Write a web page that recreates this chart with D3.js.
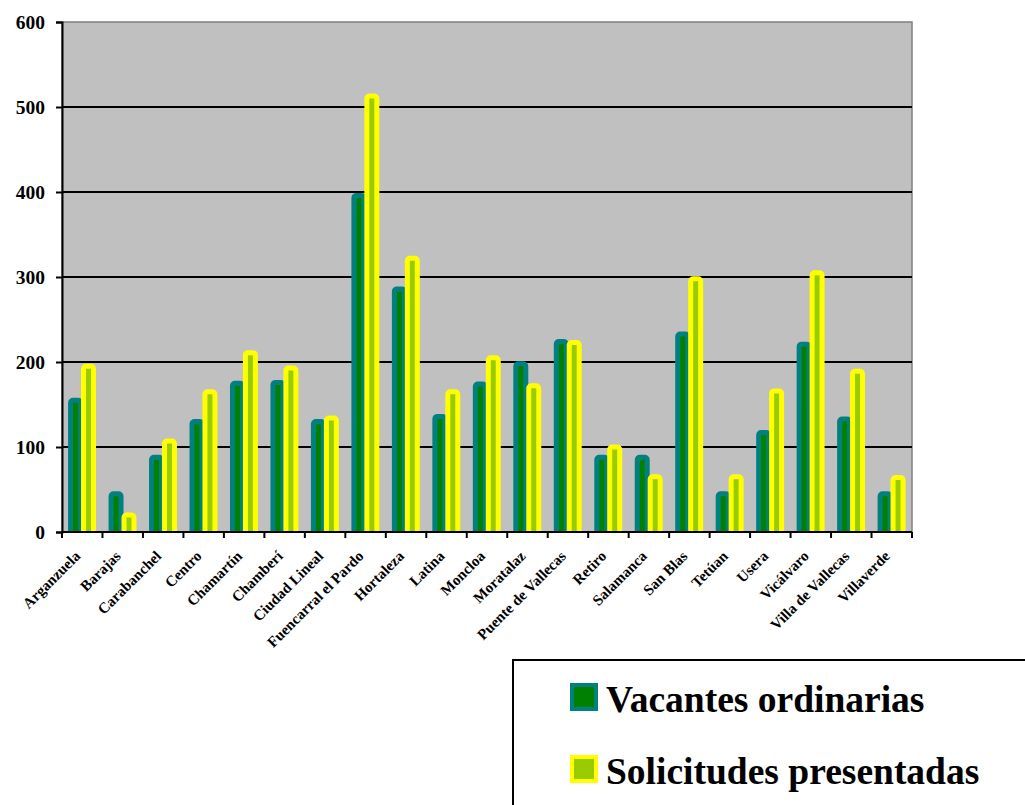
<!DOCTYPE html>
<html>
<head>
<meta charset="utf-8">
<script src="https://cdn.jsdelivr.net/npm/d3@7"></script>
<style>
  html, body { margin: 0; padding: 0; background: #ffffff; }
  svg { display: block; }
  text { font-family: "Liberation Serif", "Times New Roman", serif; font-weight: bold; fill: #000; }
</style>
</head>
<body>
<svg id="chart" width="1025" height="805"></svg>
<script>
// Distritos de Madrid
const districts = [
  "Arganzuela", "Barajas", "Carabanchel", "Centro", "Chamartín", "Chamberí",
  "Ciudad Lineal", "Fuencarral el Pardo", "Hortaleza", "Latina", "Moncloa",
  "Moratalaz", "Puente de Vallecas", "Retiro", "Salamanca", "San Blas",
  "Tetúan", "Usera", "Vicálvaro", "Villa de Vallecas", "Villaverde"
];
const vacantes = [155, 45, 88, 130, 175, 176, 130, 396, 286, 136, 174, 198, 224, 88, 88, 233, 45, 117, 221, 133, 45];
const solicitudes = [195, 20, 107, 165, 211, 193, 134, 513, 322, 165, 205, 172, 223, 100, 65, 298, 65, 166, 305, 189, 64];
const seriesNames = ["Vacantes ordinarias", "Solicitudes presentadas"];
const yTicks = [0, 100, 200, 300, 400, 500, 600];

const svg = d3.select("#chart");
const plot = { left: 62, right: 912, top: 22, bottom: 532 };

const x = d3.scaleBand().domain(districts).range([plot.left, plot.right]).padding(0);
const y = d3.scaleLinear().domain([0, 600]).range([plot.bottom, plot.top]);

const series = [
  { name: seriesNames[0], values: vacantes, stroke: "#008080", fill: "#008000" },
  { name: seriesNames[1], values: solicitudes, stroke: "#FFFF00", fill: "#99CC00" }
];

// Plot background
svg.append("rect")
  .attr("x", plot.left).attr("y", plot.top)
  .attr("width", plot.right - plot.left).attr("height", plot.bottom - plot.top)
  .attr("fill", "#C0C0C0").attr("stroke", "#808080").attr("stroke-width", 1.5);

// Horizontal gridlines
svg.append("g").selectAll("line")
  .data(yTicks.filter(t => t > 0 && t < 600))
  .join("line")
  .attr("x1", plot.left).attr("x2", plot.right)
  .attr("y1", d => y(d)).attr("y2", d => y(d))
  .attr("stroke", "#000").attr("stroke-width", 2);

// Bars
svg.append("defs").append("clipPath").attr("id", "plotClip")
  .append("rect")
  .attr("x", plot.left).attr("y", plot.top - 10)
  .attr("width", plot.right - plot.left).attr("height", plot.bottom - plot.top + 10);

const bw = x.bandwidth();
const barOuter = bw * 0.37;          // outer width incl. border
const border = 5;
const offsets = [bw * 0.15, bw * 0.15 + bw * 0.32];

const barLayer = svg.append("g").attr("clip-path", "url(#plotClip)");
series.forEach((s, si) => {
  barLayer.append("g").selectAll("rect")
    .data(districts.map((d, i) => ({ d, v: s.values[i] })))
    .join("rect")
    .attr("x", p => x(p.d) + offsets[si] + border / 2)
    .attr("width", barOuter - border)
    .attr("y", p => y(p.v))
    .attr("height", p => y(0) - y(p.v) + border)
    .attr("rx", 2.5)
    .attr("fill", s.fill)
    .attr("stroke", s.stroke)
    .attr("stroke-width", border);
});

// Y axis
const yAxis = d3.axisLeft(y).tickValues(yTicks).tickSize(6).tickPadding(11).tickFormat(d3.format("d"));
const gy = svg.append("g").attr("transform", `translate(${plot.left},0)`).call(yAxis);
gy.select(".domain").attr("stroke", "#000").attr("stroke-width", 2);
gy.selectAll(".tick line").attr("stroke", "#000").attr("stroke-width", 2);
gy.selectAll(".tick text").attr("font-size", 19.5).attr("font-family", "Liberation Serif").attr("font-weight", "bold").attr("fill", "#000");

// X axis: ticks at category boundaries
svg.append("line")
  .attr("x1", plot.left - 1).attr("x2", plot.right)
  .attr("y1", plot.bottom).attr("y2", plot.bottom)
  .attr("stroke", "#000").attr("stroke-width", 2);
const boundaries = districts.map(d => x(d)).concat([plot.right]);
svg.append("g").selectAll("line")
  .data(boundaries)
  .join("line")
  .attr("x1", d => d).attr("x2", d => d)
  .attr("y1", plot.bottom).attr("y2", plot.bottom + 6)
  .attr("stroke", "#000").attr("stroke-width", 2);

svg.append("g").selectAll("text")
  .data(districts)
  .join("text")
  .attr("transform", d => `translate(${x(d) + bw / 2 - 1},${plot.bottom + 25}) rotate(-45)`)
  .attr("text-anchor", "end")
  .attr("font-size", 15)
  .text(d => d);

// Legend
const legend = svg.append("g");
legend.append("rect")
  .attr("x", 513).attr("y", 660).attr("width", 600).attr("height", 200)
  .attr("fill", "#fff").attr("stroke", "#000").attr("stroke-width", 2);
const legendRows = legend.selectAll("g.row")
  .data(series)
  .join("g")
  .attr("class", "row")
  .attr("transform", (d, i) => `translate(570,${683 + i * 72})`);
legendRows.append("rect")
  .attr("x", 2).attr("y", 2).attr("width", 24).attr("height", 24)
  .attr("fill", d => d.fill).attr("stroke", d => d.stroke).attr("stroke-width", 4);
legendRows.append("text")
  .attr("x", 36).attr("y", 28.5)
  .attr("font-size", 37.5)
  .text(d => d.name);
</script>
</body>
</html>
